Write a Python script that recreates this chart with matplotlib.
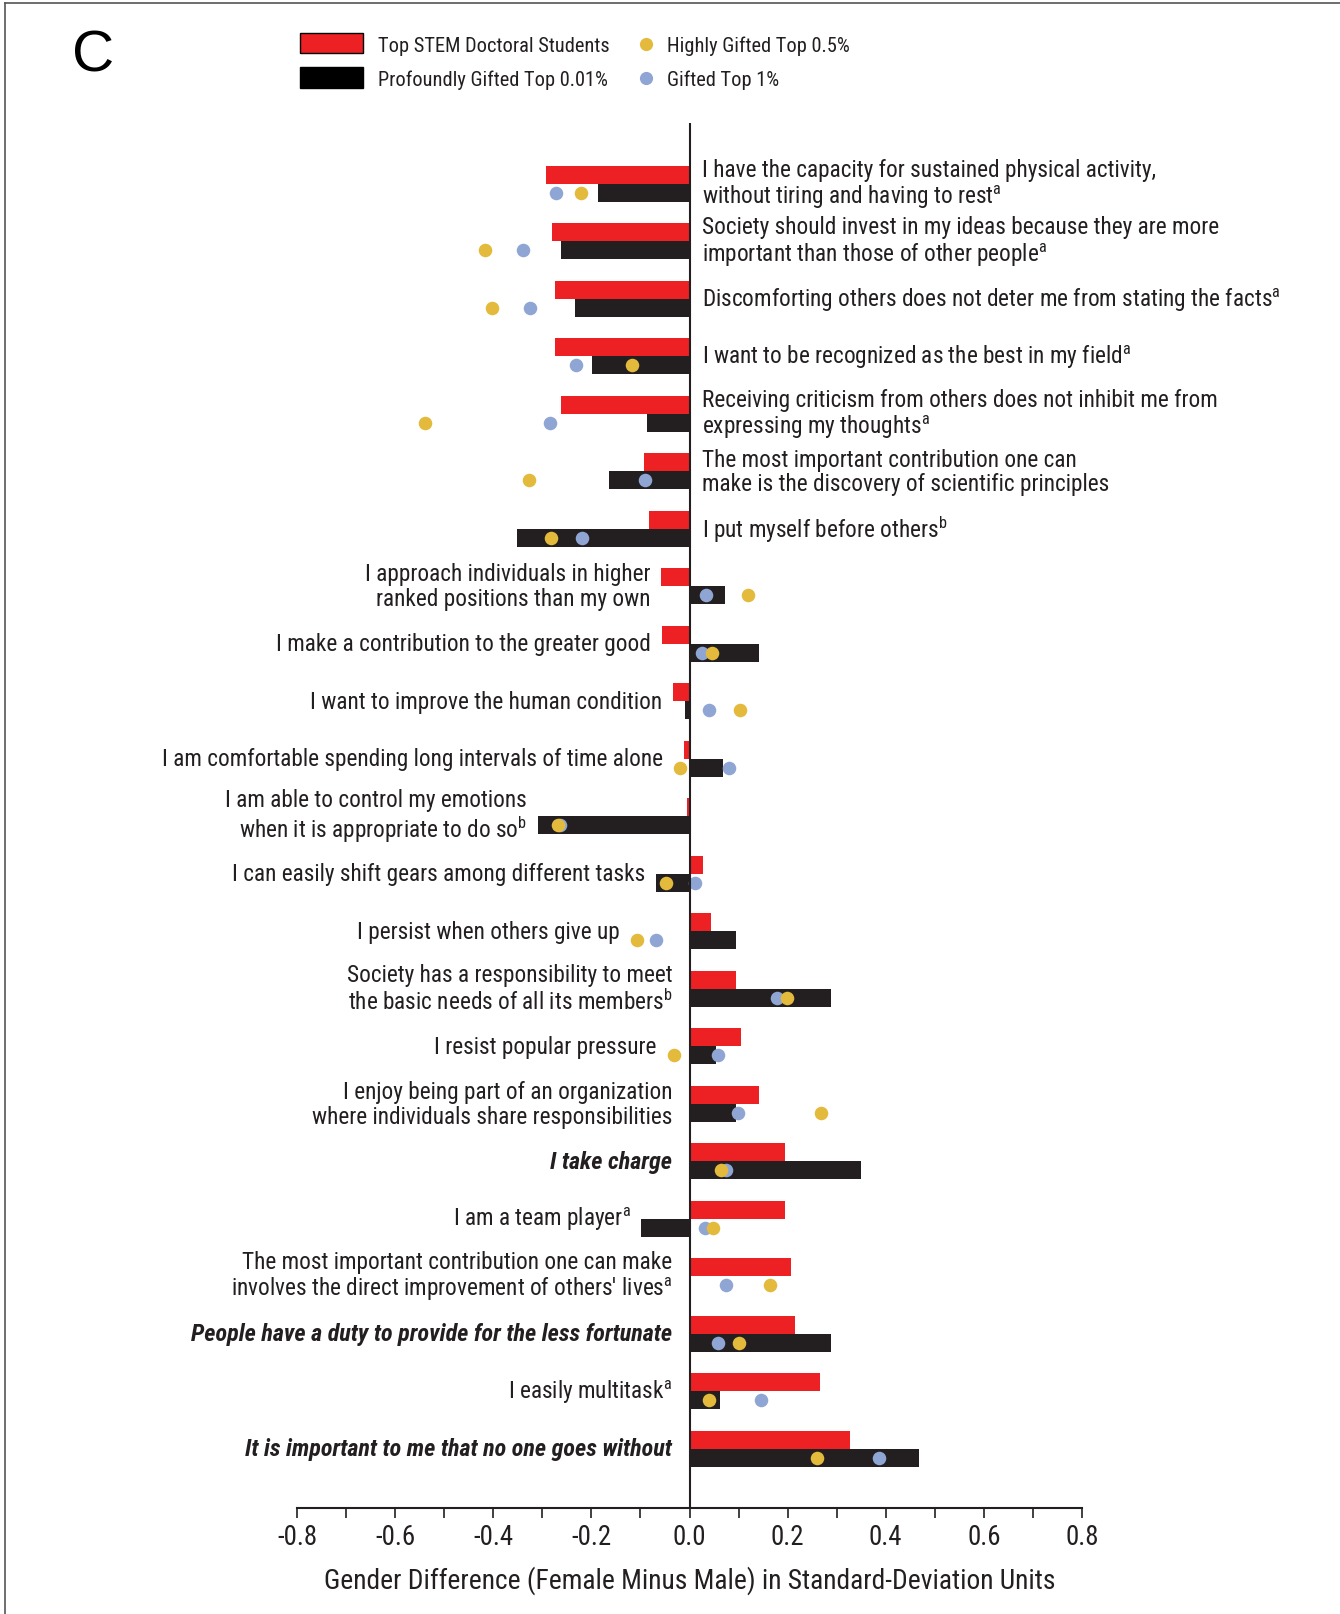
import numpy as np
import matplotlib
matplotlib.use("Agg")
import matplotlib.pyplot as plt
from matplotlib.patches import Rectangle
from matplotlib.lines import Line2D
from matplotlib.font_manager import fontManager

# narrowest sans available
installed = {f.name for f in fontManager.ttflist}
FONT = next((f for f in ["Roboto Condensed", "Liberation Sans Narrow", "Open Sans Condensed",
                         "Roboto", "Liberation Sans"] if f in installed), "DejaVu Sans")
plt.rcParams['font.family'] = [FONT, 'DejaVu Sans']
plt.rcParams['mathtext.fontset'] = 'custom'
plt.rcParams['mathtext.rm'] = FONT

# items, top to bottom
labels = [
    "I have the capacity for sustained physical activity,\nwithout tiring and having to rest$^{\\mathrm{a}}$",
    "Society should invest in my ideas because they are more\nimportant than those of other people$^{\\mathrm{a}}$",
    "Discomforting others does not deter me from stating the facts$^{\\mathrm{a}}$",
    "I want to be recognized as the best in my field$^{\\mathrm{a}}$",
    "Receiving criticism from others does not inhibit me from\nexpressing my thoughts$^{\\mathrm{a}}$",
    "The most important contribution one can\nmake is the discovery of scientific principles",
    "I put myself before others$^{\\mathrm{b}}$",
    "I approach individuals in higher\nranked positions than my own",
    "I make a contribution to the greater good",
    "I want to improve the human condition",
    "I am comfortable spending long intervals of time alone",
    "I am able to control my emotions\nwhen it is appropriate to do so$^{\\mathrm{b}}$",
    "I can easily shift gears among different tasks",
    "I persist when others give up",
    "Society has a responsibility to meet\nthe basic needs of all its members$^{\\mathrm{b}}$",
    "I resist popular pressure",
    "I enjoy being part of an organization\nwhere individuals share responsibilities",
    "I take charge",
    "I am a team player$^{\\mathrm{a}}$",
    "The most important contribution one can make\ninvolves the direct improvement of others' lives$^{\\mathrm{a}}$",
    "People have a duty to provide for the less fortunate",
    "I easily multitask$^{\\mathrm{a}}$",
    "It is important to me that no one goes without",
]
emphasis = [17, 20, 22]   # items printed in bold italic
n_right = 7               # first items carry their label right of the zero line

stem_phd = [-0.293, -0.280, -0.274, -0.274, -0.262, -0.093, -0.083,
            -0.058, -0.056, -0.034, -0.011, -0.005, 0.027, 0.043,
            0.095, 0.104, 0.141, 0.194, 0.194, 0.206, 0.216, 0.265, 0.328]
profound = [-0.187, -0.262, -0.233, -0.199, -0.087, -0.164, -0.352,
            0.072, 0.141, -0.009, 0.068, -0.309, -0.068, 0.094,
            0.289, 0.054, 0.095, 0.349, -0.098, 0.004, 0.289, 0.063, 0.467]
highly = [-0.221, -0.417, -0.402, -0.117, -0.539, -0.327, -0.282,
          0.120, 0.046, 0.103, -0.019, -0.269, -0.047, -0.107,
          0.198, -0.031, 0.269, 0.065, 0.048, 0.164, 0.100, 0.039, 0.259]
gifted = [-0.272, -0.339, -0.326, -0.232, -0.284, -0.090, -0.219,
          0.033, 0.025, 0.039, 0.080, -0.264, 0.012, -0.069,
          0.178, 0.059, 0.099, 0.075, 0.032, 0.075, 0.059, 0.145, 0.387]

xticks = np.round(np.linspace(-0.8, 0.8, 17), 1) + 0.0

RED = "#ED2024"
INK = "#231F20"
GOLD = "#E3BA3C"
BLUE = "#8FA6D4"

W, H = 1340, 1615
fig = plt.figure(figsize=(W / 100, H / 100), dpi=100)
renderer = fig.canvas.get_renderer()

def fx(px):
    return px / W

def fy(py):
    return 1 - py / H

def fit(sample, width_px, **kw):
    # font size that gives `sample` the wanted width in pixels
    t = fig.text(0, 0, sample, fontsize=10, **kw)
    w = t.get_window_extent(renderer).width
    t.remove()
    return 10 * width_px / w

size_item = fit("I have the capacity for sustained physical activity,", 450)
size_bold = fit("People have a duty to provide for the less fortunate", 481,
                fontweight="bold", fontstyle="italic")
size_legend = fit("Top STEM Doctoral Students", 231)
size_tick = fit("-0.8", 40)
size_xlabel = fit("Gender Difference (Female Minus Male) in Standard-Deviation Units", 727)

ax = fig.add_axes([fx(297), fy(1509), fx(1082) - fx(297), fy(124) - fy(1509)])

n = len(labels)
y = np.arange(n)
h = 0.313

ax.barh(y - h / 2, stem_phd, height=h, color=RED, zorder=2)
ax.barh(y + h / 2, profound, height=h, color=INK, zorder=2)
ax.scatter(gifted, y + h / 2, s=95, color=BLUE, zorder=3, linewidths=0)
ax.scatter(highly, y + h / 2, s=95, color=GOLD, zorder=4, linewidths=0)

ax.axvline(0, color=INK, lw=1.5, zorder=5)

ax.set_xlim(-0.8, 0.8)
ax.set_ylim(n - 1 + 1.03, -1.06)
ax.set_yticks([])
for s in ["top", "left", "right"]:
    ax.spines[s].set_visible(False)
ax.spines["bottom"].set_linewidth(1.5)
ax.spines["bottom"].set_color(INK)
ax.set_xticks(xticks)
ax.set_xticklabels([f"{t:.1f}" if i % 2 == 0 else "" for i, t in enumerate(xticks)],
                   fontsize=size_tick)
ax.tick_params(axis="x", length=7, width=1.2, color=INK, pad=4, labelcolor=INK)
ax.set_xlabel("Gender Difference (Female Minus Male) in Standard-Deviation Units",
              fontsize=size_xlabel, color=INK, labelpad=11)

# item labels: right of the axis for the top block, else left of the leftmost mark
for i, lab in enumerate(labels):
    style = dict(fontsize=size_item, color=INK, va="center", linespacing=1.1)
    if i in emphasis:
        style.update(fontsize=size_bold, fontweight="bold", fontstyle="italic")
    if i < n_right:
        ax.text(0.025, i, lab, ha="left", ma="left", **style)
    else:
        x_end = min(-0.035,
                    min(stem_phd[i], profound[i]) - 0.022,
                    min(highly[i], gifted[i]) - 0.0355)
        ax.text(x_end, i, lab, ha="right", ma="right", **style)

# panel letter
fig.text(fx(93), fy(57), "C", fontsize=42, ha="center", va="center",
         family="Liberation Sans", color="black")

# legend
def patch(x0, y0, x1, y1, color):
    fig.add_artist(Rectangle((fx(x0), fy(y1)), fx(x1) - fx(x0), fy(y0) - fy(y1),
                             transform=fig.transFigure, facecolor=color,
                             edgecolor="black", lw=1))

patch(300, 34, 363, 54, RED)
patch(300, 68, 363, 89, "black")
fig.text(fx(378), fy(46), "Top STEM Doctoral Students", fontsize=size_legend,
         va="center", color=INK)
fig.text(fx(378), fy(80), "Profoundly Gifted Top 0.01%", fontsize=size_legend,
         va="center", color=INK)
fig.add_artist(Line2D([fx(646)], [fy(45)], marker="o", ms=9.5, color=GOLD,
                      markeredgewidth=0, transform=fig.transFigure))
fig.add_artist(Line2D([fx(646)], [fy(79)], marker="o", ms=9.5, color=BLUE,
                      markeredgewidth=0, transform=fig.transFigure))
fig.text(fx(667), fy(46), "Highly Gifted Top 0.5%", fontsize=size_legend,
         va="center", color=INK)
fig.text(fx(667), fy(80), "Gifted Top 1%", fontsize=size_legend, va="center", color=INK)

# frame edges
fig.add_artist(Line2D([fx(5), fx(5)], [0, fy(4)], color="#555555", lw=1.2,
                      transform=fig.transFigure))
fig.add_artist(Line2D([fx(5), 1], [fy(4), fy(4)], color="#555555", lw=1.2,
                      transform=fig.transFigure))

fig.savefig("out.png", dpi=100)
